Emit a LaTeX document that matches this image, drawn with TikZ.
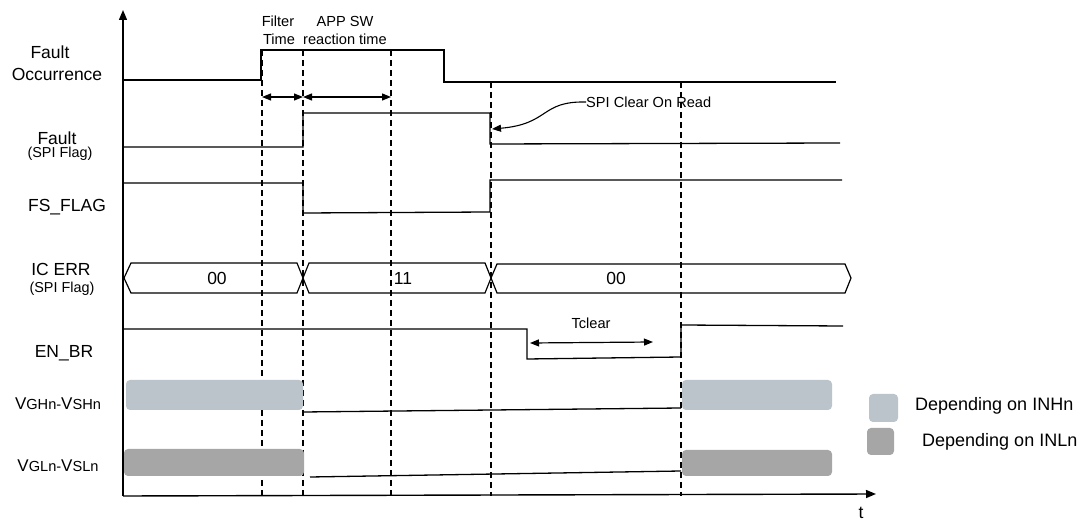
\documentclass[tikz,border=0pt]{standalone}
\usepackage{fontspec}
\setmainfont{Liberation Sans}
\usetikzlibrary{arrows.meta}
\definecolor{hicol}{RGB}{186,196,202}
\definecolor{locol}{RGB}{166,166,166}
\begin{document}
\begin{tikzpicture}[x=1pt,y=-1pt,
  sig/.style={line width=1.3pt, line join=miter},
  bus/.style={line width=1.2pt},
  gridline/.style={line width=1.1pt, dash pattern=on 6pt off 4pt},
  axis/.style={line width=1.4pt, -{Triangle[length=10pt,width=8pt]}},
  dimline/.style={line width=1.2pt, {Triangle[length=9pt,width=7pt]}-{Triangle[length=9pt,width=7pt]}},
  lab/.style={font=\fontsize{17.5}{19}\selectfont, inner sep=0pt},
  sublab/.style={font=\fontsize{14.4}{16}\selectfont, inner sep=0pt},
  ann/.style={font=\fontsize{14.6}{16}\selectfont, inner sep=0pt},
  leg/.style={font=\fontsize{18}{20}\selectfont, inner sep=0pt, anchor=west},
  hibar/.style={fill=hicol, draw=none, rounded corners=4pt},
  lobar/.style={fill=locol, draw=none, rounded corners=4pt}]
\useasboundingbox (0,0) rectangle (1080,521);

% ---- axes
\coordinate (origin) at (123,496);
\coordinate (ytop) at (123,10);
\coordinate (xend) at (876,494);
\draw[axis] (origin) -- (ytop);
\draw[axis] (origin) -- (xend);
\node[lab] (tlab) at (861,513) {t};

% ---- vertical dashed lines
\draw[gridline] (262,50) -- (262,496);
\draw[gridline] (303,50) -- (303,496);
\draw[gridline] (391,50) -- (391,496);
\draw[gridline] (491,82) -- (491,496);
\draw[gridline] (681,82) -- (681,496);

% ---- signal labels
\node[lab] (fo1) at (50,52) {Fault};
\node[lab] (fo2) at (57,74) {Occurrence};
\node[lab] (f1) at (57,138) {Fault};
\node[sublab] (f2) at (60,154) {(SPI Flag)};
\node[lab] (fs) at (67,207) {FS\_FLAG};
\node[lab] (ic1) at (61,269) {IC ERR};
\node[sublab] (ic2) at (62,289) {(SPI Flag)};
\node[lab] (en) at (64,353) {EN\_BR};
\node[inner sep=0pt] (vgh) at (58,404) {\fontsize{17}{19}\selectfont V\fontsize{14.6}{16}\selectfont GHn-\fontsize{17}{19}\selectfont V\fontsize{14.6}{16}\selectfont SHn};
\node[inner sep=0pt] (vgl) at (58,466) {\fontsize{17}{19}\selectfont V\fontsize{14.6}{16}\selectfont GLn-\fontsize{17}{19}\selectfont V\fontsize{14.6}{16}\selectfont SLn};

% ---- Fault occurrence
\draw[sig] (124,80) -- (261,80) -- (261,50) -- (444,50) -- (444,82) -- (836,82);
% ---- Fault (SPI flag)
\draw[sig] (124,147) -- (303,147) -- (303,113) -- (490,113) -- (490,144) -- (840,143);
% ---- FS_FLAG
\draw[sig] (124,183) -- (303,183) -- (303,213) -- (490,212) -- (490,180) -- (842,180);
% ---- IC ERR bus
\draw[bus] (124,278) -- (131,263) -- (297,263) -- (303,278) -- (297,293) -- (131,293) -- cycle;
\draw[bus] (303,278) -- (309,263) -- (485,263) -- (491,278) -- (485,293) -- (309,293) -- cycle;
\draw[bus] (491,278) -- (497,264) -- (845,264) -- (851,278) -- (845,293) -- (497,293) -- cycle;
\node[lab] (b1) at (217,278) {00};
\node[lab] (b2) at (403,278) {11};
\node[lab] (b3) at (616,278) {00};
% ---- EN_BR
\draw[sig] (124,329) -- (527,329) -- (527,359) -- (681,357) -- (681,325) -- (843,326);
% ---- VGHn-VSHn
\fill[hibar] (126,380) rectangle (303,410);
\draw[sig] (303,412) -- (681,408);
\fill[hibar] (682,380) rectangle (832,410);
% ---- VGLn-VSLn
\fill[lobar] (124,449) rectangle (304,476);
\draw[sig] (310,477) -- (681,471);
\fill[lobar] (682,450) rectangle (832,476);

% ---- dimension arrows and annotations
\coordinate (d1) at (262,97);
\coordinate (d2) at (303,97);
\coordinate (d3) at (391,97);
\draw[dimline] (d1) -- (d2);
\draw[dimline] (d2) -- (d3);
\node[ann] (filt1) at (278,21) {Filter};
\node[ann] (filt2) at (279,39) {Time};
\node[ann] (app1) at (345,21) {APP SW};
\node[ann] (app2) at (345,39) {reaction time};

\node[ann, anchor=west] (spi) at (586,102) {SPI Clear On Read};
\coordinate (spitip) at (492,129);
\draw[line width=1.1pt, -{Triangle[length=9pt,width=7pt]}] (spi.west) .. controls (540,101) and (550,124) .. (spitip);

\coordinate (t1) at (530,343);
\coordinate (t2) at (653,342);
\draw[dimline] (t1) -- (t2);
\node[ann] (tclear) at (591,323) {Tclear};

% ---- legend
\fill[hibar] (869,394) rectangle (898,422);
\fill[lobar] (867,428) rectangle (894,455);
\node[leg] (leg1) at (915,406) {Depending on INHn};
\node[leg] (leg2) at (922,442) {Depending on INLn};
\end{tikzpicture}
\end{document}
